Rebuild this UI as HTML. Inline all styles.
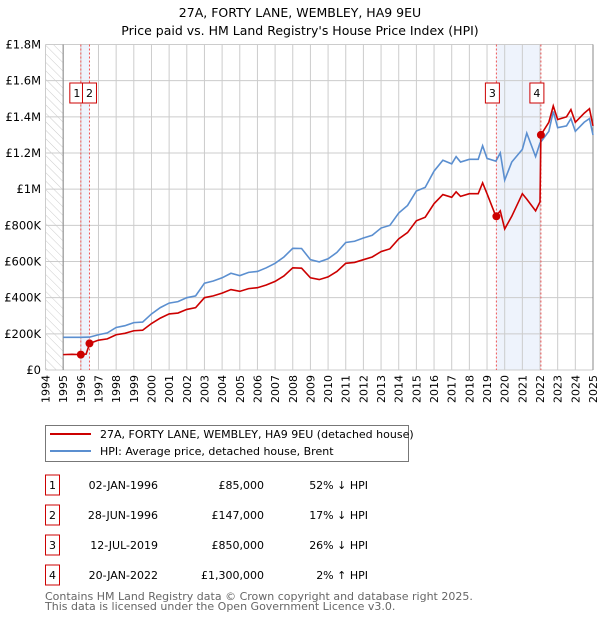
<!DOCTYPE html>
<html><head><meta charset="utf-8"><style>
body{margin:0;background:#fff;font-family:"DejaVu Sans","Liberation Sans",sans-serif}
svg text{font-family:"DejaVu Sans","Liberation Sans",sans-serif}
</style></head><body>
<svg id="c" width="600" height="620" xmlns="http://www.w3.org/2000/svg">
<defs><pattern id="hatch" width="6" height="6" patternUnits="userSpaceOnUse" patternTransform="rotate(-45)"><line x1="0" y1="0" x2="0" y2="6" stroke="#ccc" stroke-width="1"/></pattern></defs>
<text x="300" y="17" text-anchor="middle" font-size="12.5">27A, FORTY LANE, WEMBLEY, HA9 9EU</text>
<text x="300" y="35" text-anchor="middle" font-size="12.5">Price paid vs. HM Land Registry's House Price Index (HPI)</text>
<g id="plot"></g>
<g>
<rect x="45.5" y="425.5" width="363" height="36" fill="#fff" stroke="#777"/>
<line x1="50" y1="434" x2="91" y2="434" stroke="#cc0000" stroke-width="2"/>
<text x="100" y="438" font-size="11">27A, FORTY LANE, WEMBLEY, HA9 9EU (detached house)</text>
<line x1="50" y1="451" x2="91" y2="451" stroke="#5b8fd0" stroke-width="2"/>
<text x="100" y="455" font-size="11">HPI: Average price, detached house, Brent</text>
</g>
<g id="tbl" font-size="11"></g>
<text x="45" y="600" font-size="11" fill="#666">Contains HM Land Registry data © Crown copyright and database right 2025.</text>
<text x="45" y="610" font-size="11" fill="#666">This data is licensed under the Open Government Licence v3.0.</text>
</svg>
<script>
const hpiT=[1995,1996,1996.5,1997,1997.5,1998,1998.5,1999,1999.5,2000,2000.5,2001,2001.5,2002,2002.5,2003,2003.5,2004,2004.5,2005,2005.5,2006,2006.5,2007,2007.5,2008,2008.5,2009,2009.5,2010,2010.5,2011,2011.5,2012,2012.5,2013,2013.5,2014,2014.5,2015,2015.5,2016,2016.5,2017,2017.25,2017.5,2018,2018.5,2018.75,2019,2019.5,2019.75,2020,2020.4,2021,2021.25,2021.75,2022,2022.5,2022.75,2023,2023.5,2023.75,2024,2024.5,2024.8,2025];
const hpiV=[181,181,182,195,205,235,245,262,265,310,345,370,378,400,410,480,492,510,535,522,540,545,565,590,625,673,672,610,598,615,650,705,712,730,745,785,800,868,910,990,1010,1100,1160,1140,1180,1150,1165,1165,1240,1170,1155,1200,1050,1150,1220,1310,1180,1255,1320,1430,1340,1350,1390,1320,1370,1390,1300];
const priceT=[1995,1995.5,1996,1996.3,1996.5,1997,1997.5,1998,1998.5,1999,1999.5,2000,2000.5,2001,2001.5,2002,2002.5,2003,2003.5,2004,2004.5,2005,2005.5,2006,2006.5,2007,2007.5,2008,2008.5,2009,2009.5,2010,2010.5,2011,2011.5,2012,2012.5,2013,2013.5,2014,2014.5,2015,2015.5,2016,2016.5,2017,2017.25,2017.5,2018,2018.5,2018.75,2019,2019.5,2019.75,2020,2020.4,2021,2021.25,2021.75,2022,2022.05,2022.5,2022.75,2023,2023.5,2023.75,2024,2024.5,2024.8,2025];
const priceV=[85,87,85,88,147,165,172,195,203,217,220,257,287,310,315,335,345,400,410,425,445,435,450,455,470,490,520,565,563,510,500,515,545,590,595,610,625,655,670,725,760,825,845,920,970,955,985,960,975,975,1035,975,850,880,780,850,975,945,880,930,1300,1370,1460,1385,1400,1440,1370,1420,1445,1350];
const saleT=[1996.0,1996.49,2019.53,2022.05];
const saleV=[85,147,850,1300];
const saleDates=["02-JAN-1996","28-JUN-1996","12-JUL-2019","20-JAN-2022"];
const salePrices=["£85,000","£147,000","£850,000","£1,300,000"];
const salePct=["52% ↓ HPI","17% ↓ HPI","26% ↓ HPI","2% ↑ HPI"];
const yTicks=[0,200,400,600,800,1000,1200,1400,1600,1800];
const yLabels=["£0","£200K","£400K","£600K","£800K","£1M","£1.2M","£1.4M","£1.6M","£1.8M"];
const ns="http://www.w3.org/2000/svg";
const X0=45.5,X1=593,Y0=370,Y1=44.5;
const x=t=>X0+(t-1994)*(X1-X0)/31;
const y=v=>Y0-v*(Y0-Y1)/1800;
function mk(tag,at,par){const e=document.createElementNS(ns,tag);for(const k in at)e.setAttribute(k,at[k]);par.appendChild(e);return e;}
const P=document.getElementById('plot');
let r=mk('rect',{x:X0,y:Y1,width:x(1995)-X0,height:Y0-Y1,fill:'url(#hatch)'},P);


for(const [a,b] of [[saleT[0],saleT[1]],[saleT[2],saleT[3]]]){
 let s=mk('rect',{x:x(a),y:Y1,width:x(b)-x(a),height:Y0-Y1,fill:'#eef3fc'},P);
 
 
}
for(let yr=1994;yr<=2025;yr++){
 let l=mk('line',{x1:x(yr),x2:x(yr),y1:Y1,y2:Y0,stroke:'#ccc'},P);
 
 
 let t=mk('text',{x:0,y:0,'font-size':11,'text-anchor':'end',transform:`translate(${x(yr)+4},375) rotate(-90)`},P);
 t.textContent=yr;
 
 
}
yTicks.forEach((v,i)=>{
 let l=mk('line',{x1:X0,x2:X1,y1:y(v),y2:y(v),stroke:'#ccc'},P);
 
 
 let t=mk('text',{x:41,y:y(v)+4,'font-size':11.5,'text-anchor':'end'},P);
 t.textContent=yLabels[i];
 
 
});
let ax=mk('line',{x1:x(1995),x2:x(1995),y1:Y1,y2:Y0,stroke:'#888'},P);


let ax2=mk('line',{x1:X1,x2:X1,y1:Y1,y2:Y0,stroke:'#888'},P);


saleT.forEach((t,i)=>{
 let l=mk('line',{x1:x(t),x2:x(t),y1:Y1,y2:Y0,stroke:'#e55','stroke-dasharray':'2,2'},P);
 
 
});
let hp=mk('polyline',{points:hpiT.map((t,i)=>x(t)+','+y(hpiV[i])).join(' '),fill:'none',stroke:'#5b8fd0','stroke-width':1.6},P);


let pp=mk('polyline',{points:priceT.map((t,i)=>x(t)+','+y(priceV[i])).join(' '),fill:'none',stroke:'#cc0000','stroke-width':1.6},P);


const labX=[x(saleT[0])-4,x(saleT[1])+0,x(saleT[2])-4,x(saleT[3])-4];
saleT.forEach((t,i)=>{
 let d=mk('circle',{cx:x(t),cy:y(saleV[i]),r:4,fill:'#cc0000'},P);
 
 
 let g=mk('g',{},P);
 
 
 const bx=i==0?x(t)-11:(i==1?x(t)-7:x(t)-11);
 mk('rect',{x:bx,y:83,width:i<2?14:14,height:20,fill:'#fff',stroke:'#cc0000'},g);
 let tx=mk('text',{x:bx+7,y:97,'font-size':11,'text-anchor':'middle'},g);
 tx.textContent=i+1;
});
const T=document.getElementById('tbl');
saleT.forEach((t,i)=>{
 const cy=485+i*30;
 let g=mk('g',{},T);
 
 
 mk('rect',{x:45.5,y:cy-10,width:14,height:20,fill:'#fff',stroke:'#cc0000'},g);
 let a=mk('text',{x:52.5,y:cy+4,'text-anchor':'middle'},g);a.textContent=i+1;
 let b=mk('text',{x:158,y:cy+4,'text-anchor':'end'},g);b.textContent=saleDates[i];
 let c=mk('text',{x:264,y:cy+4,'text-anchor':'end'},g);c.textContent=salePrices[i];
 let e=mk('text',{x:368,y:cy+4,'text-anchor':'end'},g);e.textContent=salePct[i];
});
</script>
</body></html>
